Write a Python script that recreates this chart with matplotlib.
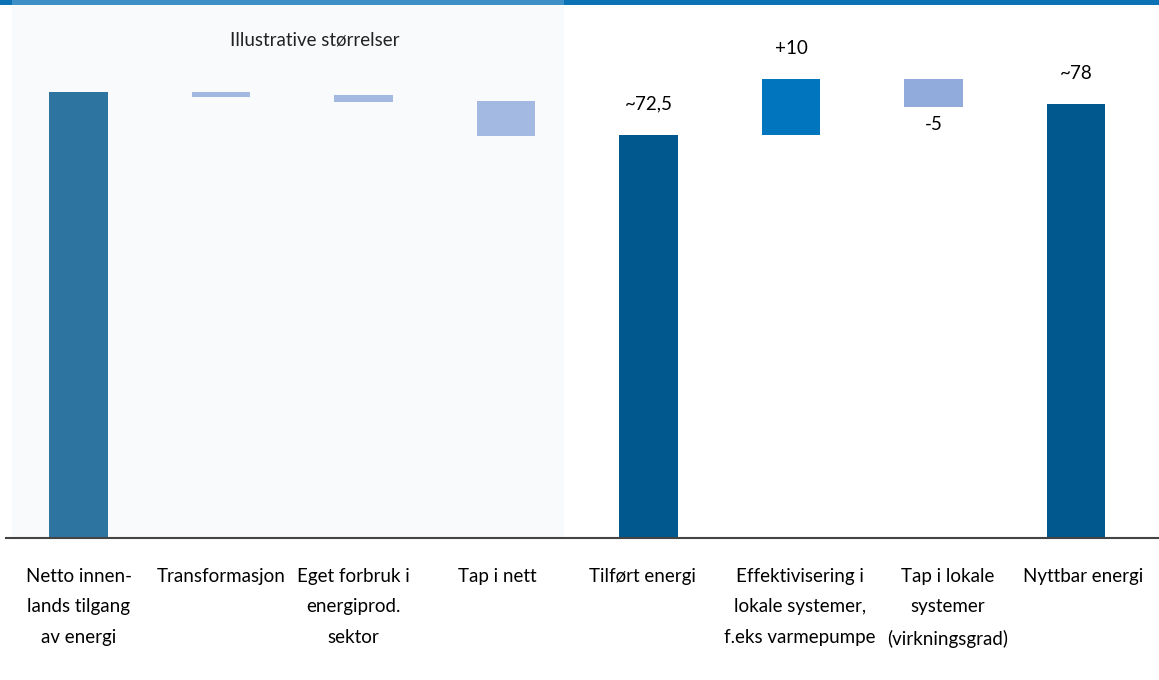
import matplotlib
matplotlib.use("Agg")
import matplotlib.pyplot as plt
from matplotlib.patches import Rectangle

plt.rcParams['font.family'] = ['Lato', 'DejaVu Sans']

# waterfall steps: bottom and top of each bar
categories = ["Netto innen-\nlands tilgang\nav energi", "Transformasjon",
              "Eget forbruk i\nenergiprod.\nsektor", "Tap i nett",
              "Tilført energi", "Effektivisering i\nlokale systemer,\nf.eks varmepumpe",
              "Tap i lokale\nsystemer\n(virkningsgrad)", "Nyttbar energi"]
bar_bottom = [0, 79.4, 78.4, 72.3, 0, 72.5, 77.5, 0]
bar_top = [80.3, 80.3, 79.6, 78.6, 72.5, 82.5, 82.5, 78]
value_labels = ["", "", "", "", "~72,5", "+10", "-5", "~78"]

# small sideways nudges of the category texts (category units)
label_shift = [0.0, 0.0, -0.07, -0.06, -0.04, 0.06, 0.1, 0.05]
colors = ["#2e74a0", "#a3b9e2", "#a3b9e2", "#a3b9e2",
          "#00588e", "#0175bd", "#91acdc", "#00588e"]

W, H = 1159, 680
fig = plt.figure(figsize=(W / 100, H / 100), dpi=100)

# background layer in pixel coords
bg = fig.add_axes([0, 0, 1, 1])
bg.set_xlim(0, W)
bg.set_ylim(H, 0)
bg.axis("off")
bg.add_patch(Rectangle((12, 0), 552, 538, color="#f8fafc", lw=0))
bg.add_patch(Rectangle((0, 0), W, 5, color="#0b72b5", lw=0))
bg.add_patch(Rectangle((12, 0), 552, 5, color="#3d8fc6", lw=0))
bg.text(315, 40, "Illustrative størrelser", ha="center", va="center",
        fontsize=13.5, color="#222222")

ax = fig.add_axes([6 / W, 142 / H, 1 - 6 / W, 538 / H])
ax.patch.set_alpha(0)
ax.set_xlim(-0.509, 7.582)
ax.set_ylim(0, 538 / 5.56)

x = list(range(len(categories)))
heights = [t - b for t, b in zip(bar_top, bar_bottom)]
ax.bar(x, heights, bottom=bar_bottom, width=0.41, color=colors, lw=0)

for i, lab in enumerate(value_labels):
    if not lab:
        continue
    if lab.startswith("-"):
        ax.annotate(lab, (x[i], bar_bottom[i]), xytext=(0, -17),
                    textcoords="offset pixels", ha="center", va="center", fontsize=13.5)
    else:
        ax.annotate(lab, (x[i], bar_top[i]), xytext=(0, 31),
                    textcoords="offset pixels", ha="center", va="center", fontsize=13.5)

for i, cat in enumerate(categories):
    ax.annotate(cat, (x[i] + label_shift[i], 0), xytext=(0, -30), textcoords="offset pixels",
                ha="center", va="top", fontsize=13.5, linespacing=1.95)

for s in ["top", "right", "left"]:
    ax.spines[s].set_visible(False)
ax.spines["bottom"].set_color("#444444")
ax.spines["bottom"].set_linewidth(1.5)
ax.set_xticks([])
ax.set_yticks([])

fig.savefig("out.png", dpi=100)
